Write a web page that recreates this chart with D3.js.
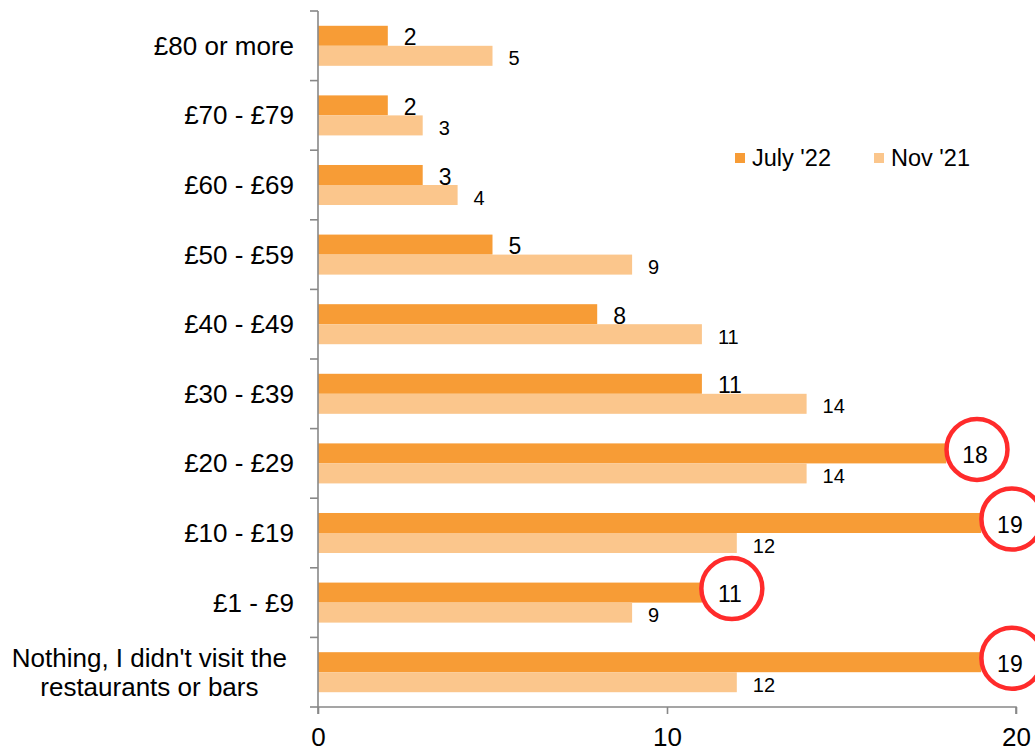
<!DOCTYPE html>
<html>
<head>
<meta charset="utf-8">
<script src="https://cdn.jsdelivr.net/npm/d3@7"></script>
<style>
    body { margin: 0; background: #fff; }
    text { font-family: "Liberation Sans", Arial, sans-serif; fill: #000; }
</style>
</head>
<body>
<div id="graph"></div>
<script>
!(function(){
    "use strict"

    var width = 1035;
    var height = 751;

    // data (top to bottom)
    var categories = ["£80 or more", "£70 - £79", "£60 - £69", "£50 - £59", "£40 - £49",
                      "£30 - £39", "£20 - £29", "£10 - £19", "£1 - £9",
                      "Nothing, I didn't visit the\nrestaurants or bars"];
    var series = ["July '22", "Nov '21"];
    var july22 = [2, 2, 3, 5, 8, 11, 18, 19, 11, 19];
    var nov21 = [5, 3, 4, 9, 11, 14, 14, 12, 9, 12];
    var xTicks = [0, 10, 20];
    // July '22 values that are ringed in red
    var circled = ["£20 - £29", "£10 - £19", "£1 - £9", "Nothing, I didn't visit the\nrestaurants or bars"];

    var colors = ["#f79c36", "#fbc68c"];
    var values = [july22, nov21];

    var svg = d3.select('#graph')
        .append('svg')
        .attr("width", width)
        .attr("height", height);

    var x = d3.scaleLinear().domain([0, 20]).range([318, 1016]);

    var y0 = d3.scaleBand()
        .domain(categories)
        .range([11, 707])
        .paddingInner(0.425)
        .paddingOuter(0.2125);

    var y1 = d3.scaleBand()
        .domain(series)
        .range([0, y0.bandwidth()]);

    var rows = categories.map(function(c, i) {
        return { cat: c, vals: series.map(function(s, j) { return { s: s, j: j, v: values[j][i] }; }) };
    });

    // bars
    var groups = svg.selectAll('g.row')
        .data(rows)
        .enter().append('g')
        .attr('class', 'row')
        .attr('transform', function(d){ return "translate(0," + y0(d.cat) + ")"; });

    groups.selectAll('rect')
        .data(function(d){ return d.vals; })
        .enter().append('rect')
        .attr('x', x(0))
        .attr('y', function(d){ return y1(d.s); })
        .attr('width', function(d){ return x(d.v) - x(0); })
        .attr('height', y1.bandwidth())
        .attr('fill', function(d){ return colors[d.j]; });

    // value labels
    groups.selectAll('text.val')
        .data(function(d){ return d.vals; })
        .enter().append('text')
        .attr('class', 'val')
        .attr('x', function(d){ return x(d.v) + 16; })
        .attr('y', function(d){ return y1(d.s) + y1.bandwidth() - 0.5; })
        .style('font-size', function(d){ return d.j === 0 ? "23px" : "20px"; })
        .text(function(d){ return d.v; });

    // red rings around some July labels
    groups.filter(function(d){ return circled.indexOf(d.cat) >= 0; })
        .each(function(d) {
            var g = d3.select(this);
            var lbl = g.selectAll('text.val').filter(function(v){ return v.j === 0; });
            var w = lbl.node().getComputedTextLength();
            g.append('circle')
                .attr('cx', x(d.vals[0].v) + 16 + w / 2 + 2)
                .attr('cy', y1(series[0]) + y1.bandwidth() / 2 - 4)
                .attr('r', 30.5)
                .attr('fill', 'none')
                .attr('stroke', '#ff2b2b')
                .attr('stroke-width', 4.5);
        });

    // category axis
    var axisColor = "#888";
    svg.append('line')
        .attr('x1', x(0)).attr('x2', x(0))
        .attr('y1', y0.range()[0]).attr('y2', y0.range()[1])
        .attr('stroke', axisColor).attr('stroke-width', 1.6);

    svg.selectAll('line.ytick')
        .data(d3.range(categories.length + 1))
        .enter().append('line')
        .attr('class', 'ytick')
        .attr('x1', x(0) - 8).attr('x2', x(0))
        .attr('y1', function(i){ return y0.range()[0] + i * y0.step(); })
        .attr('y2', function(i){ return y0.range()[0] + i * y0.step(); })
        .attr('stroke', axisColor).attr('stroke-width', 1.6);

    var labelRight = 294;
    svg.selectAll('text.cat')
        .data(categories)
        .enter().append('text')
        .attr('class', 'cat')
        .style('font-size', "26px")
        .each(function(c) {
            var t = d3.select(this);
            var lines = c.split("\n");
            var cy = y0(c) + y0.bandwidth() / 2;
            if (lines.length === 1) {
                t.attr('x', labelRight).attr('y', cy + 9).attr('text-anchor', 'end').text(c);
            } else {
                t.attr('text-anchor', 'middle');
                lines.forEach(function(l, k) {
                    t.append('tspan')
                        .attr('y', cy + 9 + (k - (lines.length - 1) / 2) * 29)
                        .text(l);
                });
                var maxW = 0;
                t.selectAll('tspan').each(function(){ maxW = Math.max(maxW, this.getComputedTextLength()); });
                t.selectAll('tspan').attr('x', labelRight - maxW / 2 - 7);
            }
        });

    // value axis
    var xAxis = d3.axisBottom(x)
        .tickValues(xTicks)
        .tickSize(7)
        .tickPadding(14)
        .tickFormat(d3.format("d"));

    var gx = svg.append('g')
        .attr('transform', "translate(0," + y0.range()[1] + ")")
        .call(xAxis);
    gx.select('.domain').attr('stroke', axisColor).attr('stroke-width', 1.6)
        .attr('d', "M" + x(0) + ",7V0H" + x(20) + "V7");
    gx.selectAll('.tick line').attr('stroke', axisColor).attr('stroke-width', 1.6);
    gx.selectAll('.tick text')
        .style('font-size', "26px")
        .style('font-family', '"Liberation Sans", Arial, sans-serif')
        .attr('fill', '#000');

    // legend
    var legend = svg.selectAll('g.legend')
        .data(series)
        .enter().append('g')
        .attr('class', 'legend')
        .attr('transform', function(d, i){ return "translate(" + [735, 874][i] + ",153)"; });
    legend.append('rect')
        .attr('width', 10).attr('height', 10)
        .attr('fill', function(d, i){ return colors[i]; });
    legend.append('text')
        .attr('x', 17).attr('y', 12.5)
        .style('font-size', "23.5px")
        .text(function(d){ return d; });

}());
</script>
</body>
</html>
